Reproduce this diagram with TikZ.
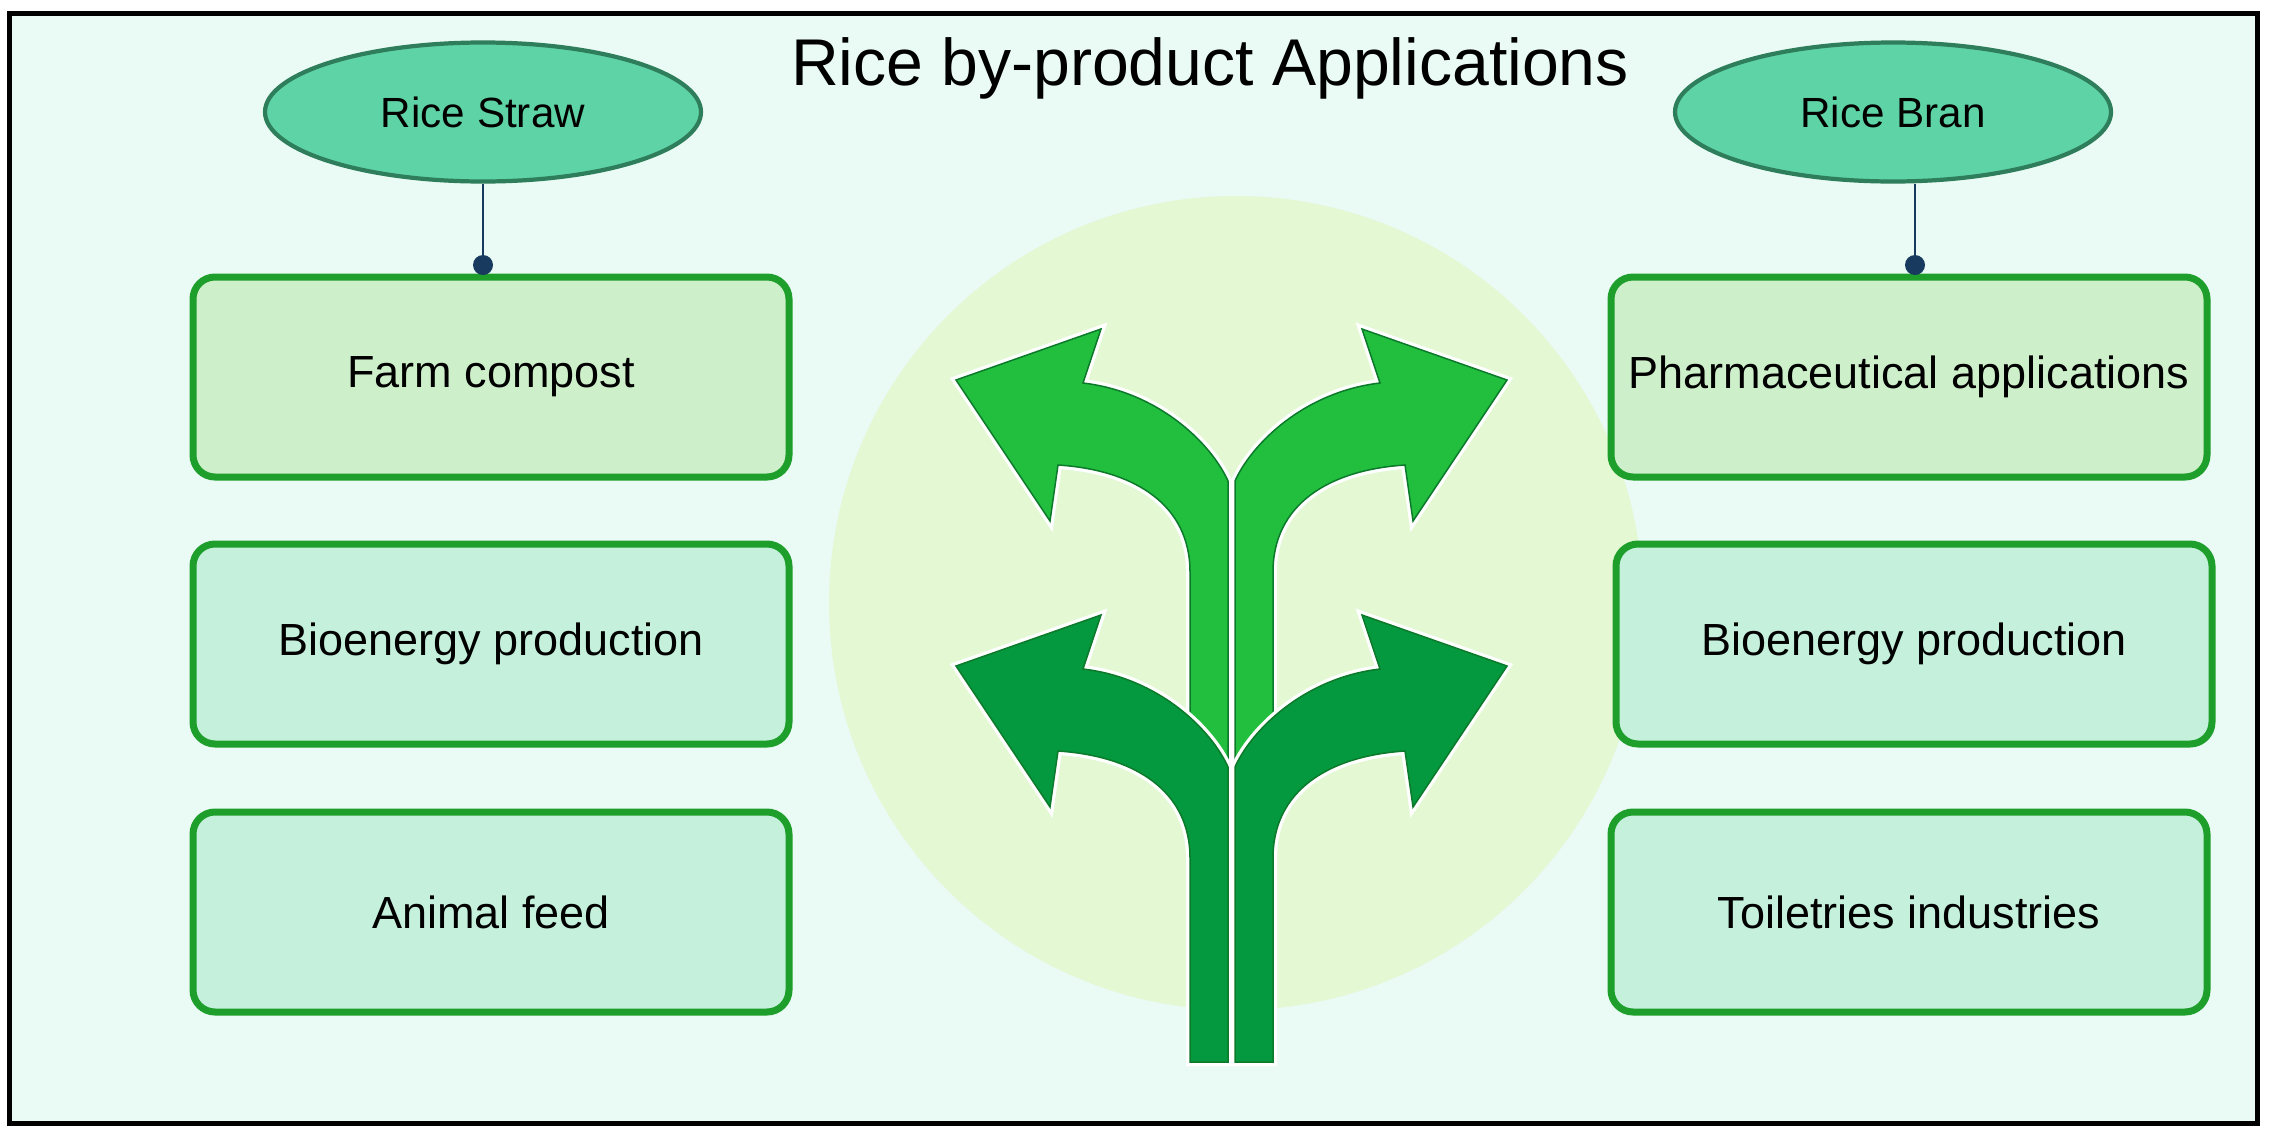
\documentclass[tikz,border=0pt]{standalone}
\usepackage{fontspec}
\setmainfont{Liberation Sans}
\usetikzlibrary{shapes.geometric}
\definecolor{bg}{HTML}{EAFAF5}
\definecolor{circ}{HTML}{E4F8D4}
\definecolor{ellfill}{HTML}{5ED3A6}
\definecolor{elldraw}{HTML}{2E7D5B}
\definecolor{boxdraw}{HTML}{1E9E2A}
\definecolor{boxA}{HTML}{CDEFC9}
\definecolor{boxB}{HTML}{C4F0DC}
\definecolor{linec}{HTML}{173A5E}
\definecolor{upg}{HTML}{22BF3F}
\definecolor{lowg}{HTML}{04983F}
\definecolor{arrline}{HTML}{0C7A2A}
\newcommand{\pxu}{*0.01cm}
\tikzset{
  cat/.style={ellipse, fill=ellfill, draw=elldraw, line width=1.2pt, minimum width=436\pxu, minimum height=139\pxu, inner sep=0pt, font=\fontsize{12}{14}\selectfont},
  box/.style={rounded corners=22\pxu, draw=boxdraw, line width=7\pxu, minimum width=596\pxu, minimum height=200\pxu, font=\fontsize{12.8}{15}\selectfont},
  conn/.style={draw=linec, line width=2.2\pxu},
  dot/.style={circle, fill=linec, inner sep=0pt, minimum size=20\pxu},
  arr/.style={draw=arrline, line width=1.5\pxu, line join=miter},
  halo/.style={draw=white, line width=8\pxu, line join=miter},
}
\newcommand{\arrowshape}[1]{(1190,1062) -- (1190,{572+#1}) .. controls (1190,{505+#1}) and (1135,{470+#1}) .. (1058,{465+#1}) -- (1050,{521+#1}) -- (956,{380+#1}) -- (1101,{329+#1}) -- (1083,{383+#1}) .. controls (1160,{392+#1}) and (1212,{445+#1}) .. (1228,{481+#1}) -- (1228,1062) -- cycle}
\begin{document}
\begin{tikzpicture}[x=0.01cm,y=-0.01cm]
\useasboundingbox (0,0) rectangle (2278,1130);
\fill[bg] (9,13) rectangle (2257,1123);
\fill[circ] (1236,603) circle (407);
\foreach \c/\o in {upg/0,lowg/286}{
  \path[halo] \arrowshape{\o};
  \begin{scope}[shift={(2463,0)}, xscale=-1]
    \path[halo] \arrowshape{\o};
  \end{scope}
  \path[arr, fill=\c] \arrowshape{\o};
  \begin{scope}[shift={(2463,0)}, xscale=-1]
    \path[arr, fill=\c] \arrowshape{\o};
  \end{scope}
}
\draw[black, line width=5\pxu] (9,13) rectangle (2257,1123);
\node (title) at (1210,68) {\fontsize{18.8}{22}\selectfont Rice by-product Applications};
\node[cat] (rs) at (483,112) {Rice Straw};
\node[cat] (rb) at (1893,112) {Rice Bran};
\node[box, fill=boxA] (l1) at (491,377) {Farm compost};
\node[box, fill=boxB] (l2) at (491,644) {Bioenergy production};
\node[box, fill=boxB] (l3) at (491,912) {Animal feed};
\node[box, fill=boxA] (r1) at (1909,377) {Pharmaceutical applications};
\node[box, fill=boxB] (r2) at (1914,644) {Bioenergy production};
\node[box, fill=boxB] (r3) at (1909,912) {Toiletries industries};
\coordinate (ld) at (483,265);
\coordinate (rd) at (1915,265);
\draw[conn] (rs.south) -- (ld);
\draw[conn] (rd |- rb.south) -- (rd);
\node[dot] at (ld) {};
\node[dot] at (rd) {};
\end{tikzpicture}
\end{document}
